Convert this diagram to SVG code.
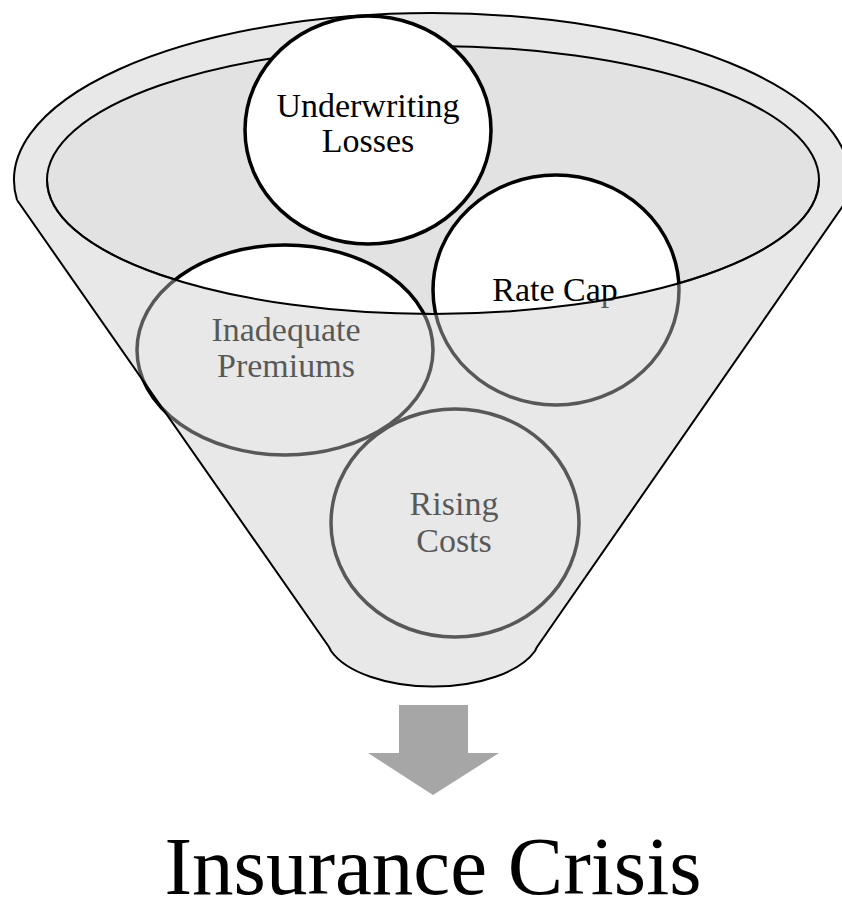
<svg xmlns="http://www.w3.org/2000/svg" width="842" height="899" viewBox="0 0 842 899">
  <style>
    .label { font-family: "Liberation Serif", "Times New Roman", serif; font-size: 34px; text-anchor: middle; fill: #000; }
    .bubble { fill: #fff; stroke: #000; stroke-width: 3.5; }
    .edge { fill: none; stroke: #000; stroke-width: 2; stroke-linejoin: round; }
    .title { font-family: "Liberation Serif", "Times New Roman", serif; font-size: 83px; text-anchor: middle; fill: #000; }
  </style>
  <rect width="842" height="899" fill="#fff"/>

  <!-- funnel rim and mouth (behind the bubbles) -->
  <g id="funnel-back">
    <path d="M17,200 A418,167 0 1 1 847,200 L819,180 A386,134 0 0 1 47,180 Z" fill="#e8e8e8"/>
    <path class="edge" d="M17,200 A418,167 0 1 1 847,200"/>
    <ellipse cx="433" cy="180" rx="386" ry="134" fill="#e2e2e2" stroke="#000" stroke-width="2"/>
  </g>

  <!-- bubbles sitting in the funnel -->
  <g id="node-underwriting">
    <ellipse class="bubble" cx="368" cy="130" rx="123" ry="114"/>
    <text class="label" x="368" y="117">Underwriting</text>
    <text class="label" x="368" y="152">Losses</text>
  </g>
  <g id="node-rate-cap">
    <ellipse class="bubble" cx="556" cy="290" rx="123" ry="115"/>
    <text class="label" x="555" y="301">Rate Cap</text>
  </g>
  <g id="node-premiums">
    <ellipse class="bubble" cx="285" cy="350" rx="148" ry="105"/>
    <text class="label" x="286" y="341">Inadequate</text>
    <text class="label" x="286" y="377">Premiums</text>
  </g>
  <g id="node-costs">
    <ellipse class="bubble" cx="455" cy="523" rx="124" ry="114"/>
    <text class="label" x="454" y="515">Rising</text>
    <text class="label" x="454" y="552">Costs</text>
  </g>

  <!-- translucent front wall of the funnel -->
  <g id="funnel-front">
    <path d="M17,200 L331,650 A108,53 0 0 0 535,650 L847,200 L819,180 A386,134 0 0 1 47,180 Z" fill="#cacaca" fill-opacity="0.435"/>
    <path class="edge" d="M819,180 A386,134 0 0 1 47,180"/>
    <path class="edge" d="M17,200 L329,647 L331,651 A108,53 0 0 0 535,651 L537,647 L847,200"/>
  </g>

  <g id="connectors">
    <path d="M399,705 H468 V753 H499 L433,795 L368,753 H399 Z" fill="#a6a6a6"/>
  </g>

  <g id="node-result">
    <text class="title" x="433" y="894">Insurance Crisis</text>
  </g>
</svg>
